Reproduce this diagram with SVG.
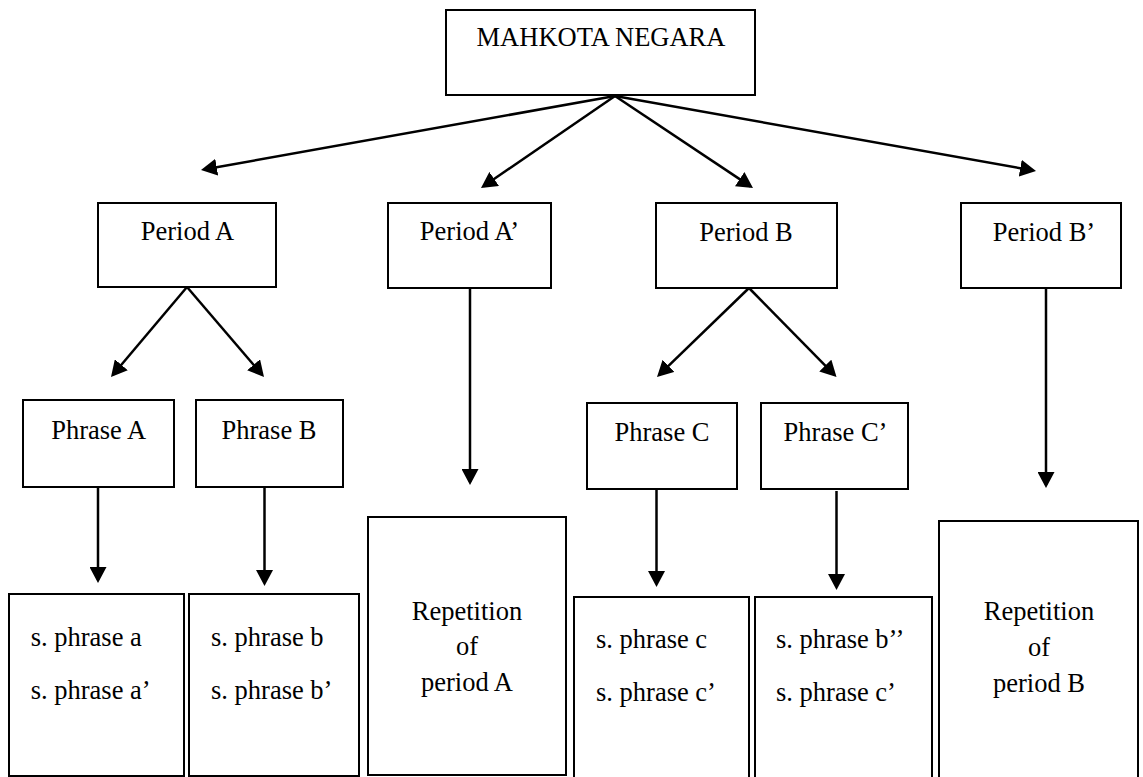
<svg xmlns="http://www.w3.org/2000/svg" width="1143" height="777" viewBox="0 0 1143 777">
<defs>
<style>
.box{fill:#fff;stroke:#000;stroke-width:2}
.m{text-anchor:middle}
.c{fill:none;stroke:#000;stroke-width:2.5;marker-end:url(#ah)}
</style>
<marker id="ah" viewBox="0 0 16 17" refX="13" refY="8.5" markerWidth="16" markerHeight="17" markerUnits="userSpaceOnUse" orient="auto">
<path d="M0,0 L16,8.5 L0,17 Z" fill="#000"/>
</marker>
</defs>
<rect width="1143" height="777" fill="#fff"/>
<g id="connectors">
<line class="c" x1="615" y1="96" x2="203.95" y2="169.47"/>
<line class="c" x1="615" y1="96" x2="483.47" y2="186.3"/>
<line class="c" x1="615" y1="96" x2="750.5" y2="186.34"/>
<line class="c" x1="615" y1="96" x2="1033.05" y2="170.47"/>
<line class="c" x1="187" y1="287" x2="112.94" y2="374.71"/>
<line class="c" x1="187" y1="287" x2="262.05" y2="374.72"/>
<line class="c" x1="749" y1="288" x2="659.16" y2="374.91"/>
<line class="c" x1="749" y1="288" x2="834.4" y2="374.86"/>
<line class="c" x1="470" y1="288" x2="470" y2="482"/>
<line class="c" x1="1046" y1="288" x2="1046" y2="485"/>
<line class="c" x1="98" y1="487" x2="98" y2="580"/>
<line class="c" x1="264.5" y1="487" x2="264.5" y2="583"/>
<line class="c" x1="656.5" y1="489" x2="656.5" y2="584"/>
<line class="c" x1="836.5" y1="491" x2="836.5" y2="587"/>
</g>
<g font-family="'Liberation Serif', Tinos, 'DejaVu Serif', serif" font-size="26.5" fill="#000">
<g id="root"><rect class="box" x="446" y="10" width="309" height="85"/><text class="m" x="601" y="46">MAHKOTA NEGARA</text></g>
<g id="periodA"><rect class="box" x="98" y="203" width="178" height="84"/><text class="m" x="187.5" y="240">Period A</text></g>
<g id="periodA2"><rect class="box" x="388" y="203" width="163" height="85"/><text class="m" x="469.5" y="240">Period A’</text></g>
<g id="periodB"><rect class="box" x="656" y="203" width="181" height="85"/><text class="m" x="746" y="241">Period B</text></g>
<g id="periodB2"><rect class="box" x="961" y="203" width="160" height="85"/><text class="m" x="1044" y="241">Period B’</text></g>
<g id="phraseA"><rect class="box" x="23" y="400" width="151" height="87"/><text class="m" x="98.7" y="439">Phrase A</text></g>
<g id="phraseB"><rect class="box" x="196" y="400" width="147" height="87"/><text class="m" x="269" y="439">Phrase B</text></g>
<g id="phraseC"><rect class="box" x="587" y="403" width="150" height="86"/><text class="m" x="662" y="441">Phrase C</text></g>
<g id="phraseC2"><rect class="box" x="761" y="403" width="147" height="86"/><text class="m" x="835.5" y="441">Phrase C’</text></g>
<g id="subA"><rect class="box" x="9" y="594" width="175" height="182"/><text x="30.7" y="646">s. phrase a</text><text x="30.7" y="699">s. phrase a’</text></g>
<g id="subB"><rect class="box" x="189" y="594" width="170" height="182"/><text x="211" y="646">s. phrase b</text><text x="211" y="699">s. phrase b’</text></g>
<g id="repA"><rect class="box" x="368" y="517" width="198" height="258"/><text class="m" x="467" y="620">Repetition</text><text class="m" x="467" y="655">of</text><text class="m" x="467" y="691">period A</text></g>
<g id="subC"><rect class="box" x="574" y="597" width="175" height="200"/><text x="596" y="648">s. phrase c</text><text x="596" y="701">s. phrase c’</text></g>
<g id="subC2"><rect class="box" x="755" y="597" width="177" height="200"/><text x="776" y="648">s. phrase b’’</text><text x="776" y="701">s. phrase c’</text></g>
<g id="repB"><rect class="box" x="939" y="521" width="199" height="276"/><text class="m" x="1039" y="620">Repetition</text><text class="m" x="1039" y="656">of</text><text class="m" x="1039" y="692">period B</text></g>
</g>
</svg>
